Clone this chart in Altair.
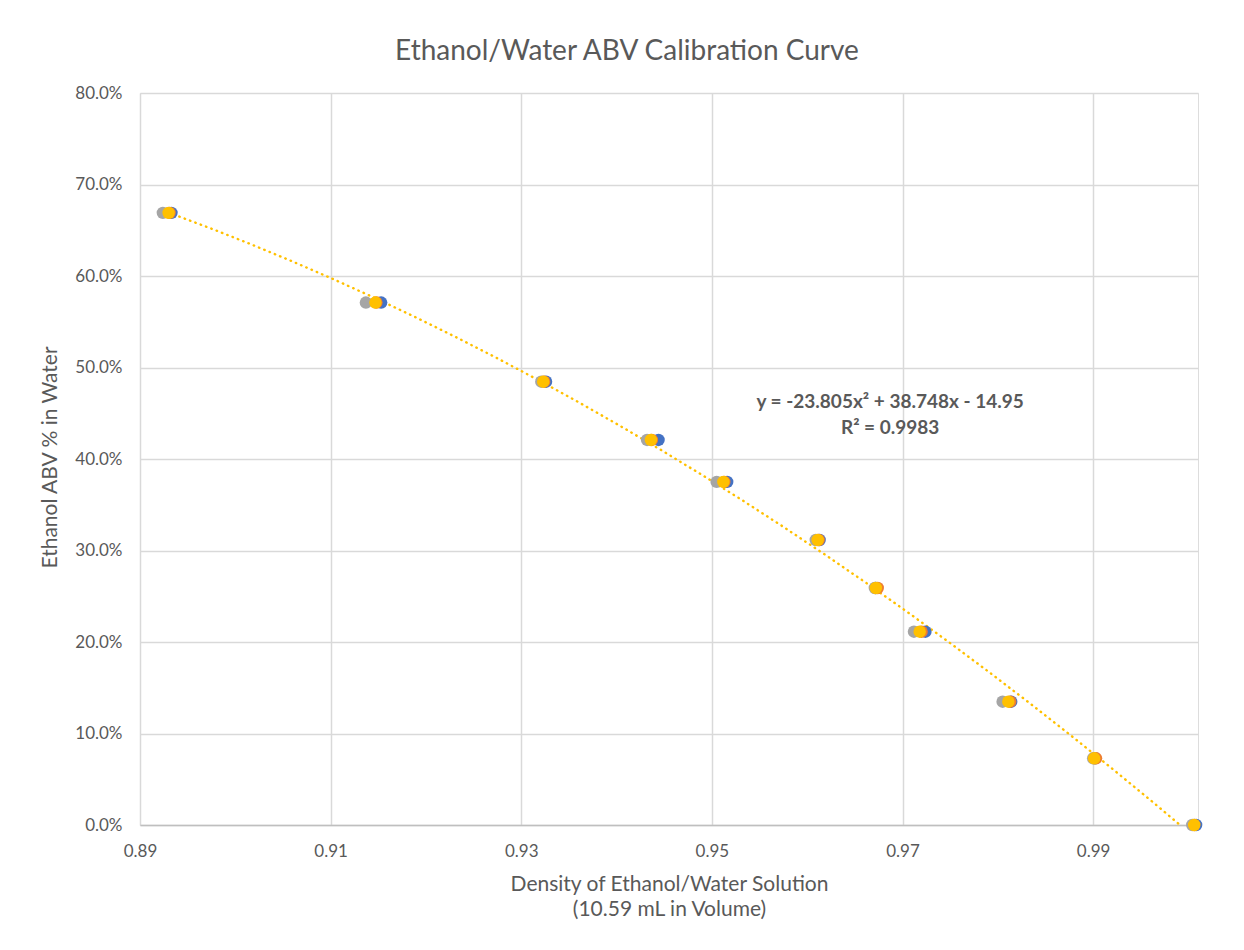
import altair as alt
import pandas as pd

# ABV levels (fraction) shared by all series
abv = [0.669, 0.571, 0.4845, 0.4208, 0.375, 0.3115, 0.259, 0.2113, 0.1348, 0.0729, 0.0]

# Densities measured for each series
dens_blue   = [0.8933, 0.9153, 0.9326, 0.9444, 0.9516, 0.9613, 0.9672, 0.9724, 0.9814, 0.9902, 1.0008]
dens_orange = [0.8931, 0.9148, 0.9324, 0.9437, 0.9513, 0.9612, 0.9674, 0.9720, 0.9813, 0.9903, 1.0006]
dens_gray   = [0.8924, 0.9137, 0.9321, 0.9432, 0.9505, 0.9609, 0.9671, 0.9712, 0.9805, 0.9900, 1.0004]
dens_yellow = [0.8930, 0.9147, 0.9323, 0.9436, 0.9512, 0.9611, 0.9672, 0.9718, 0.9811, 0.9901, 1.0006]

series_names = ["Series1", "Series2", "Series3", "Series4"]
series_colors = ["#4472C4", "#ED7D31", "#A5A5A5", "#FFC000"]

x_ticks = [0.89, 0.91, 0.93, 0.95, 0.97, 0.99]
y_ticks = [0.0, 0.1, 0.2, 0.3, 0.4, 0.5, 0.6, 0.7, 0.8]

eq_lines = ["y = -23.805x² + 38.748x - 14.95", "R² = 0.9983"]
eq_x = [0.9687, 0.9687]
eq_y = [0.4626, 0.4336]

rows = []
for name, dens in zip(series_names, [dens_blue, dens_orange, dens_gray, dens_yellow]):
    for d, a in zip(dens, abv):
        rows.append({"density": d, "abv": a, "series": name})
df = pd.DataFrame(rows)
df_y = pd.DataFrame({"density": dens_yellow, "abv": abv})
df_eq = pd.DataFrame({"label": eq_lines, "x": eq_x, "y": eq_y})

TXT = "#595959"
FONT = "Lato"

xscale = alt.Scale(domain=[0.89, 1.001], nice=False, zero=False)
yscale = alt.Scale(domain=[0, 0.8], nice=False)

xaxis = alt.Axis(
    values=x_ticks, format=".2f", title=["Density of Ethanol/Water Solution", "(10.59 mL in Volume)"],
    grid=True, gridColor="#D9D9D9", gridWidth=1.5, ticks=False, labelFlush=False,
    domainColor="#BFBFBF", domainWidth=1.5,
    labelColor=TXT, labelFontSize=17, labelFont=FONT, labelPadding=18,
    titleColor=TXT, titleFontSize=21, titleFont=FONT, titleFontWeight="normal",
    titlePadding=14, titleLineHeight=25,
)
yaxis = alt.Axis(
    values=y_ticks, format=".1%", title="Ethanol ABV % in Water",
    grid=True, gridColor="#D9D9D9", gridWidth=1.5, ticks=False, domain=False,
    labelColor=TXT, labelFontSize=17, labelFont=FONT, labelPadding=18,
    titleColor=TXT, titleFontSize=21, titleFont=FONT, titleFontWeight="normal",
    titleX=-90, titleY=364, titleAngle=-90, titleAlign="center", titleBaseline="middle",
)

points = alt.Chart(df).mark_circle(size=155, opacity=1).encode(
    x=alt.X("density:Q", scale=xscale, axis=xaxis),
    y=alt.Y("abv:Q", scale=yscale, axis=yaxis),
    color=alt.Color("series:N", scale=alt.Scale(domain=series_names, range=series_colors), legend=None),
    order=alt.Order("series:N"),
)

trend = alt.Chart(df_y).transform_regression(
    "density", "abv", method="poly", order=2
).mark_line(
    color="#FFC000", strokeWidth=2.4, strokeDash=[0.5, 5.2], strokeCap="round", clip=True
).encode(
    x=alt.X("density:Q", scale=xscale),
    y=alt.Y("abv:Q", scale=yscale),
)

eq = alt.Chart(df_eq).mark_text(
    font=FONT, fontSize=19, fontWeight="bold", color=TXT, align="center", baseline="middle"
).encode(
    x=alt.X("x:Q", scale=xscale),
    y=alt.Y("y:Q", scale=yscale),
    text="label:N",
)

chart = alt.layer(trend, points, eq).properties(
    width=1058, height=732,
    autosize=alt.AutoSizeParams(type="none"),
    padding={"left": 132, "top": 85, "right": 38, "bottom": 117},
    title=alt.TitleParams(
        "Ethanol/Water ABV Calibration Curve", font=FONT, fontSize=28, fontWeight="normal",
        color=TXT, anchor="middle", frame="group", offset=4, baseline="middle", dx=-42,
    ),
).configure_view(stroke=None).configure(background="white")

chart.save("out.html", embed_options={"renderer": "svg", "actions": False})
